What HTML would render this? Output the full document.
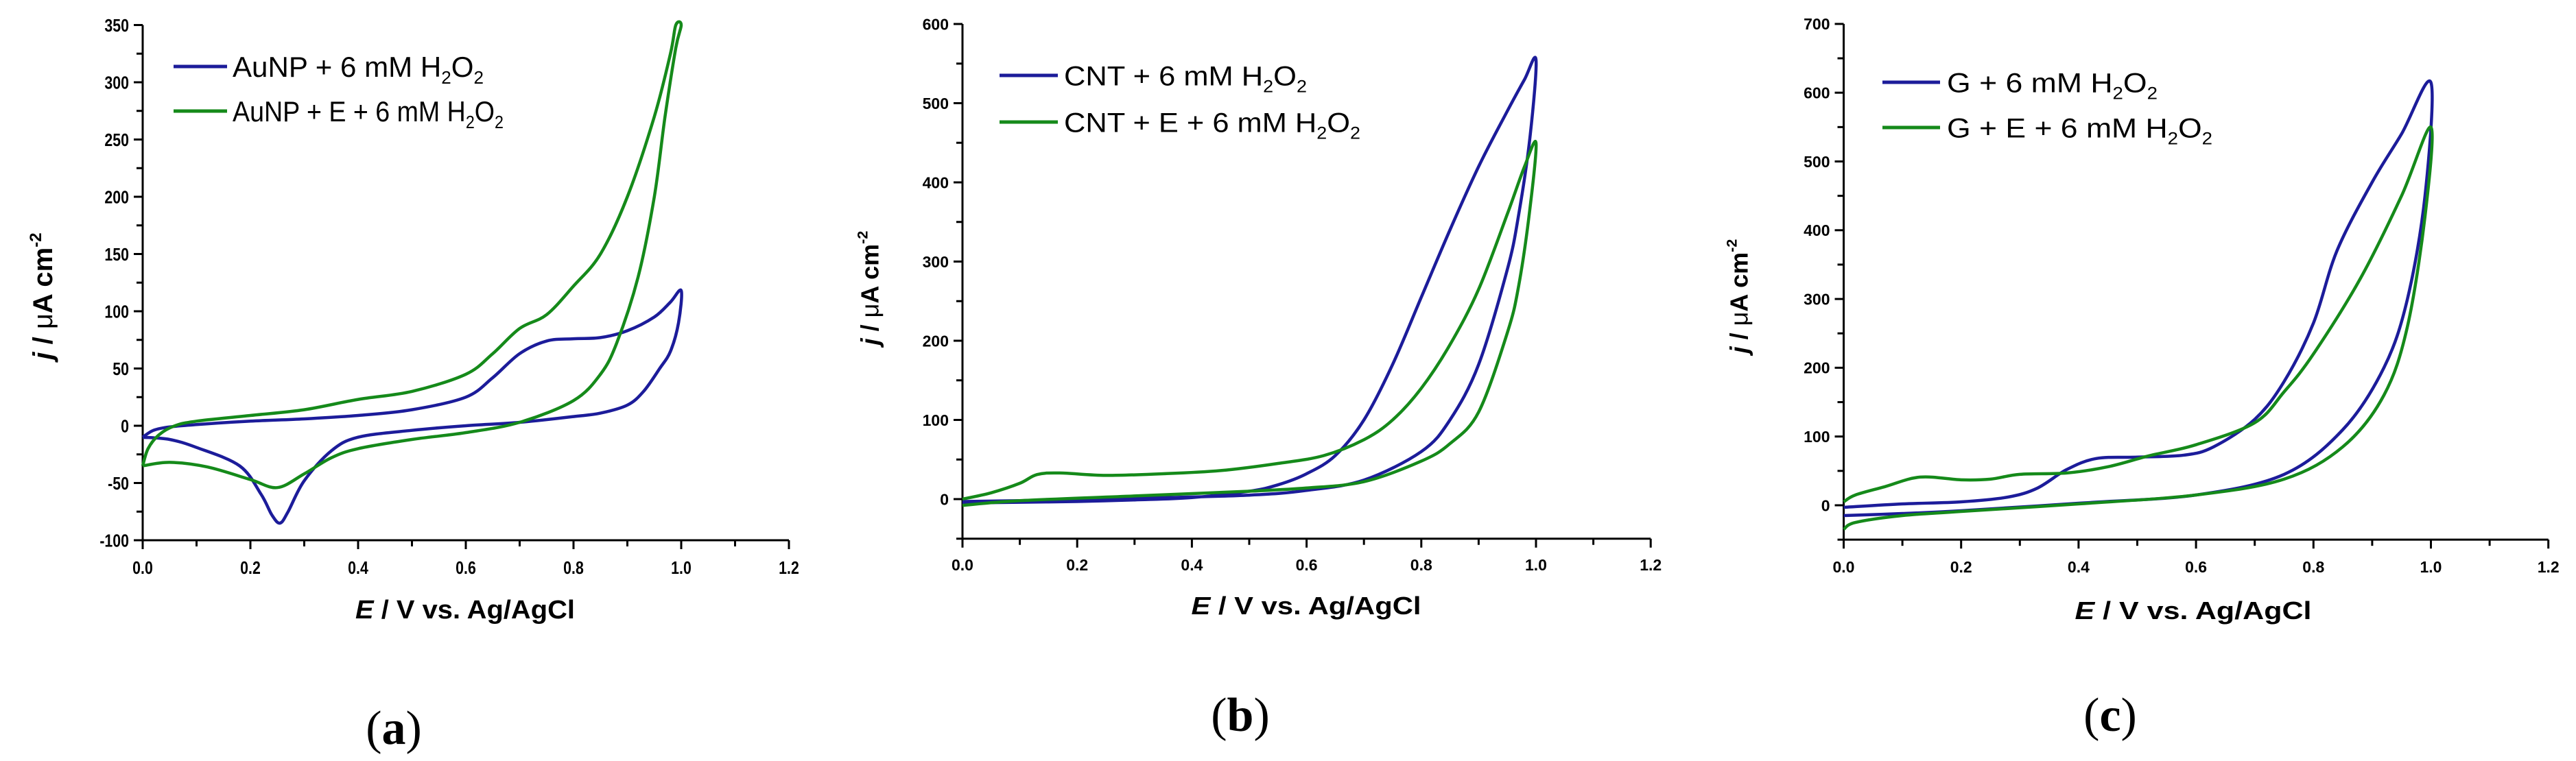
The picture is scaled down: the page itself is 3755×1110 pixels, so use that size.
<!DOCTYPE html>
<html><head><meta charset="utf-8"><style>
html,body{margin:0;padding:0;background:#fff;}
svg{display:block;font-family:"Liberation Sans",Arial,sans-serif;}
</style></head><body>
<svg id="fig" width="3755" height="1110" viewBox="0 0 3755 1110" xmlns="http://www.w3.org/2000/svg"></svg>
<script>
// Panel a data
const aBlueE = [0,0.02,0.05,0.1,0.2,0.3,0.4,0.5,0.6,0.65,0.7,0.75,0.8,0.85,0.9,0.95,0.98,1.0, 0.995,0.98,0.96,0.93,0.9,0.85,0.8,0.7,0.6,0.5,0.4,0.35,0.3,0.27,0.255,0.24,0.22,0.18,0.1,0.05,0.0];
const aBlueJ = [-10,-4,-1,1,4,6,9,14,25,42,63,74,76,77,83,95,108,118, 90,65,50,30,18,11,8,3,0,-4,-10,-22,-48,-75,-85,-78,-60,-35,-19,-12,-10];
const aGreenE = [0,0.01,0.03,0.06,0.1,0.2,0.3,0.4,0.5,0.6,0.65,0.7,0.75,0.8,0.85,0.9,0.95,0.98,0.99, 1.0,0.99,0.97,0.95,0.92,0.88,0.85,0.8,0.7,0.6,0.5,0.4,0.35,0.3,0.25,0.2,0.12,0.05,0.0];
const aGreenJ = [-35,-20,-8,0,4,9,14,23,30,45,63,85,97,122,150,200,270,325,350, 350,330,270,200,130,72,45,22,3,-6,-12,-20,-28,-42,-54,-47,-36,-32,-35];
// Panel b data
const bBlueE = [0,0.1,0.2,0.3,0.4,0.5,0.55,0.6,0.65,0.7,0.75,0.8,0.85,0.9,0.95,0.98,1.0, 0.99,0.97,0.95,0.9,0.85,0.8,0.7,0.6,0.5,0.3,0.1,0.0];
const bBlueJ = [-5,-4,-3,-1,2,10,18,32,55,100,170,255,340,420,490,530,555, 460,360,290,170,100,60,24,11,5,1,-2,-3];
const bGreenE = [0,0.05,0.1,0.13,0.17,0.25,0.35,0.45,0.55,0.63,0.7,0.75,0.8,0.85,0.9,0.95,0.98,1.0, 0.99,0.97,0.95,0.9,0.85,0.8,0.7,0.6,0.5,0.3,0.1,0.0];
const bGreenJ = [0,8,20,31,33,30,32,36,45,55,75,100,140,195,265,360,420,450, 370,270,210,110,70,48,22,14,10,4,-2,-8];
// Panel c data
const cBlueE = [0,0.1,0.2,0.28,0.33,0.38,0.43,0.5,0.58,0.63,0.7,0.75,0.8,0.84,0.9,0.95,1.0, 0.99,0.96,0.92,0.85,0.75,0.6,0.4,0.2,0.1,0.0];
const cBlueJ = [-3,2,5,12,25,52,68,70,73,85,125,180,265,370,470,540,615, 450,300,200,110,45,15,3,-8,-12,-15];
const cGreenE = [0,0.02,0.07,0.13,0.2,0.25,0.3,0.38,0.45,0.52,0.6,0.7,0.75,0.8,0.88,0.95,1.0, 0.99,0.96,0.92,0.85,0.75,0.6,0.4,0.2,0.1,0.02,0.0];
const cGreenJ = [5,15,27,41,37,38,45,47,56,72,88,120,165,220,330,450,550, 420,260,160,85,38,15,2,-9,-15,-25,-35];
// Tick labels
const xTicks = [0,0.2,0.4,0.6,0.8,1.0,1.2];
const xTickLabels = ["0.0","0.2","0.4","0.6","0.8","1.0","1.2"];
const aYTicks = [-100,-50,0,50,100,150,200,250,300,350];
const bYTicks = [0,100,200,300,400,500,600];
const cYTicks = [0,100,200,300,400,500,600,700];

const NS="http://www.w3.org/2000/svg";
const svg=document.getElementById('fig');
function el(tag,attrs,parent){const e=document.createElementNS(NS,tag);for(const k in attrs)e.setAttribute(k,attrs[k]);(parent||svg).appendChild(e);return e;}
const BLUE="#1c1c9a", GREEN="#158a1a";

const panels=[
 {id:'a',x0:208,pxV:785,y0:621,pxJ:1.67,yMin:-100,yMax:350,yStep:50,yTicks:aYTicks,fs:26,cond:0.82,
  series:[[aBlueE,aBlueJ,BLUE,'blue-curve-a'],[aGreenE,aGreenJ,GREEN,'green-curve-a']],
  legend:{lx1:253,lx2:331,y1:97,y2:162,tx:339,t1:"AuNP + 6 mM H",t2:"AuNP + E + 6 mM H",w1:366,w2:395,fs:42},
  ytitle:{x:62,y:432,fs:40},xtitle:{x:678,y:902,fs:38,w:320},lab:{x:574,y:1085,t:"(a)"},tickY:837},
 {id:'b',x0:1403,pxV:836,y0:728,pxJ:1.155,yMin:-50,yMax:600,yStep:100,yTicks:bYTicks,fs:23,cond:1,
  series:[[bBlueE,bBlueJ,BLUE,'blue-curve-b'],[bGreenE,bGreenJ,GREEN,'green-curve-b']],
  legend:{lx1:1457,lx2:1542,y1:110,y2:178,tx:1551,t1:"CNT + 6 mM H",t2:"CNT + E + 6 mM H",w1:354,w2:432,fs:40},
  ytitle:{x:1268,y:420,fs:36},xtitle:{x:1904,y:896,fs:36,w:335},lab:{x:1808,y:1066,t:"(b)"},tickY:832},
 {id:'c',x0:2687.5,pxV:856,y0:737,pxJ:1.003,yMin:-50,yMax:700,yStep:100,yTicks:cYTicks,fs:23,cond:1,
  series:[[cBlueE,cBlueJ,BLUE,'blue-curve-c'],[cGreenE,cGreenJ,GREEN,'green-curve-c']],
  legend:{lx1:2744,lx2:2828,y1:120,y2:186,tx:2838,t1:"G + 6 mM H",t2:"G + E + 6 mM H",w1:307,w2:387,fs:40},
  ytitle:{x:2535,y:432,fs:36},xtitle:{x:3197,y:903,fs:36,w:345},lab:{x:3076,y:1066,t:"(c)"},tickY:835}
];

function smoothPath(pts){
  let d="M"+pts[0][0].toFixed(1)+","+pts[0][1].toFixed(1);
  for(let i=0;i<pts.length-1;i++){
    const p0=pts[Math.max(0,i-1)],p1=pts[i],p2=pts[i+1],p3=pts[Math.min(pts.length-1,i+2)];
    const c1=[p1[0]+(p2[0]-p0[0])/6,p1[1]+(p2[1]-p0[1])/6];
    const c2=[p2[0]-(p3[0]-p1[0])/6,p2[1]-(p3[1]-p1[1])/6];
    d+=" C"+c1[0].toFixed(1)+","+c1[1].toFixed(1)+" "+c2[0].toFixed(1)+","+c2[1].toFixed(1)+" "+p2[0].toFixed(1)+","+p2[1].toFixed(1);
  }
  return d;
}

panels.forEach(p=>{
  const xs=v=>p.x0+v*p.pxV;
  const ys=j=>p.y0-j*p.pxJ;
  const g=el('g',{});
  
  
  const yBot=ys(p.yMin), yTop=ys(p.yMax), xR=xs(1.2);
  const ax=el('path',{d:`M${p.x0},${yTop} V${yBot} H${xR}`,fill:'none',stroke:'#000','stroke-width':3},g);
  
  
  for(let k=0;k<=12;k++){
    const v=k/10, x=xs(v), major=k%2===0;
    el('line',{x1:x,y1:yBot,x2:x,y2:yBot+(major?13:9),stroke:'#000','stroke-width':3},g);
  }
  xTicks.forEach((v,i)=>{
    const t=el('text',{x:xs(v),y:p.tickY,'font-size':p.fs,'font-weight':'bold','text-anchor':'middle'},g);
    if(p.cond!==1){t.setAttribute('transform',`translate(${xs(v)},0) scale(${p.cond},1) translate(${-xs(v)},0)`);}
    t.textContent=xTickLabels[i];
    
    
  });
  for(let j=p.yMin;j<=p.yMax;j+=p.yStep/2){
    const y=ys(j), major=p.yTicks.includes(j)||(p.id==='a'&&((j-p.yMin)%p.yStep===0));
    el('line',{x1:p.x0,y1:y,x2:p.x0-(major?13:9),y2:y,stroke:'#000','stroke-width':3},g);
  }
  p.yTicks.forEach(j=>{
    const xr=p.x0-20;
    const t=el('text',{x:xr,y:ys(j)+p.fs*0.36,'font-size':p.fs,'font-weight':'bold','text-anchor':'end'},g);
    if(p.cond!==1){t.setAttribute('transform',`translate(${xr},0) scale(${p.cond},1) translate(${-xr},0)`);}
    t.textContent=String(j);
    
    
  });
  p.series.forEach(s=>{
    const pts=s[0].map((v,i)=>[xs(v),ys(s[1][i])]);
    const path=el('path',{d:smoothPath(pts),fill:'none',stroke:s[2],'stroke-width':4.5,'stroke-linejoin':'round'},g);
    
    
  });
  const L=p.legend;
  [[L.y1,BLUE,L.t1,L.w1,'legend-entry-blue'],[L.y2,GREEN,L.t2,L.w2,'legend-entry-green']].forEach(e=>{
    const lg=el('g',{},g);
    
    
    el('line',{x1:L.lx1,y1:e[0],x2:L.lx2,y2:e[0],stroke:e[1],'stroke-width':5},lg);
    const t=el('text',{x:L.tx,y:e[0]+L.fs*0.36,'font-size':L.fs,textLength:e[3],lengthAdjust:'spacingAndGlyphs'},lg);
    t.innerHTML=e[2]+'<tspan font-size="'+(L.fs*0.62)+'" dy="10">2</tspan><tspan dy="-10">O</tspan><tspan font-size="'+(L.fs*0.62)+'" dy="10">2</tspan>';
  });
  const Y=p.ytitle;
  const yt=el('text',{x:0,y:0,'font-size':Y.fs,'font-weight':'bold','text-anchor':'middle',transform:`translate(${Y.x+Y.fs*0.35},${Y.y}) rotate(-90)`},g);
  yt.innerHTML='<tspan font-style="italic">j</tspan> / <tspan font-weight="normal">μ</tspan>A cm<tspan font-size="'+(Y.fs*0.6)+'" dy="-16">-2</tspan>';
  
  
  const X=p.xtitle;
  const xt=el('text',{x:X.x-X.w/2,y:X.y,'font-size':X.fs,'font-weight':'bold',textLength:X.w,lengthAdjust:'spacingAndGlyphs'},g);
  xt.innerHTML='<tspan font-style="italic">E</tspan> / V vs. Ag/AgCl';
  
  
  const lb=el('text',{x:p.lab.x,y:p.lab.y,'font-size':70,'text-anchor':'middle','font-family':'"Liberation Serif",serif'},g);
  lb.innerHTML='(<tspan font-weight="bold">'+p.lab.t.slice(1,2)+'</tspan>)';
  
  
});
</script>
</body></html>
